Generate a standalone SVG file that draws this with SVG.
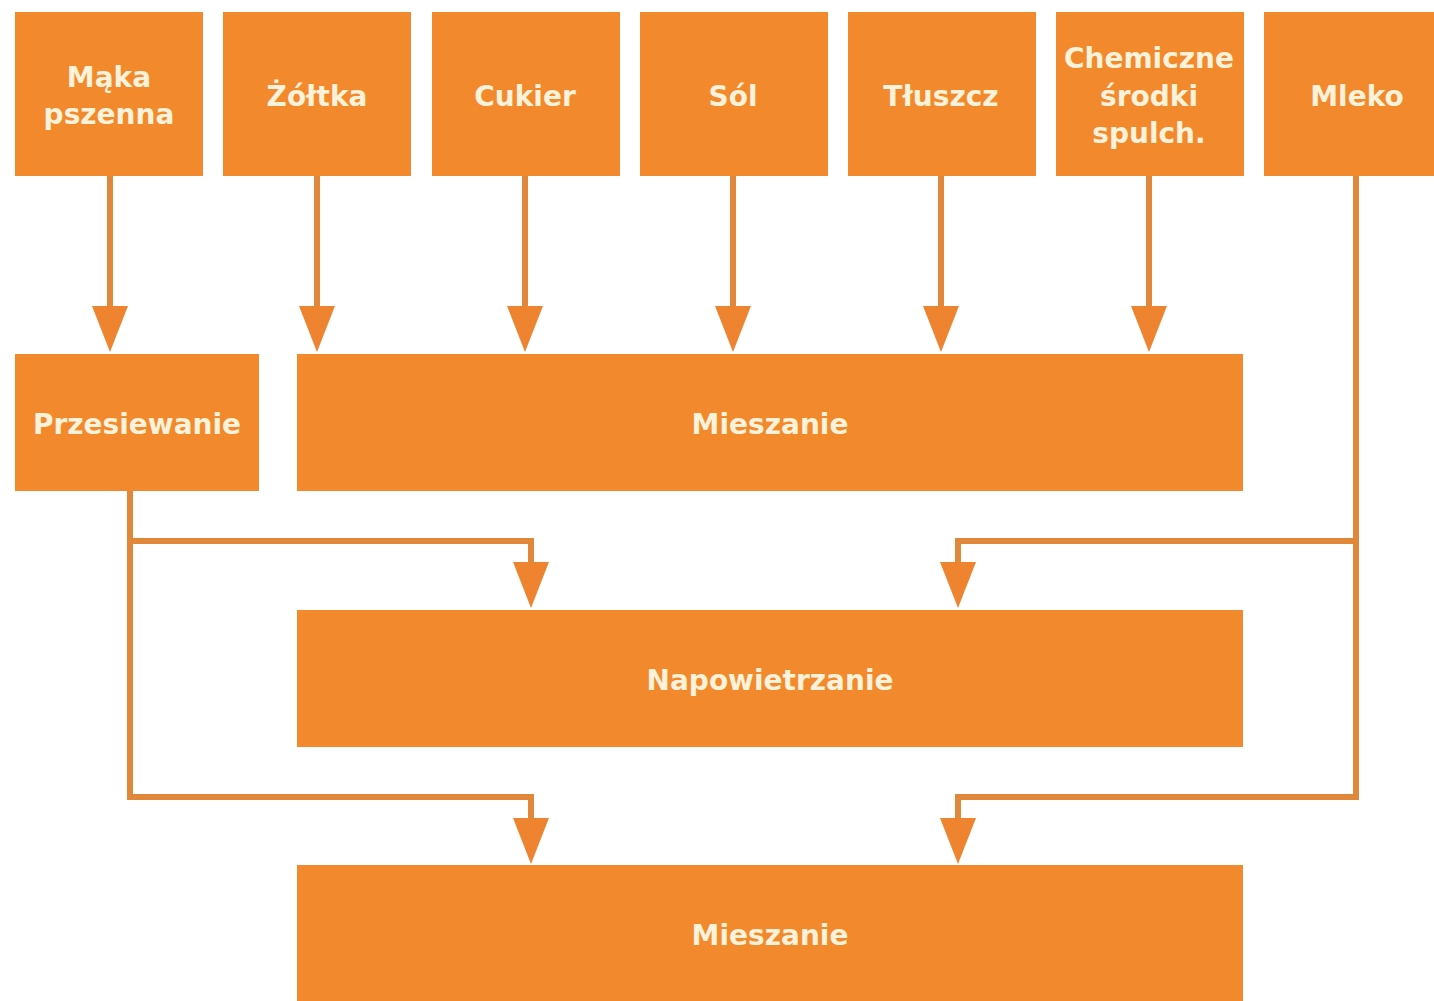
<svg xmlns="http://www.w3.org/2000/svg" width="1434" height="1001" viewBox="0 0 1434 1001">
<style>
.box{fill:#F28A2D}
.lbl{font-family:"DejaVu Sans",Verdana,sans-serif;font-weight:bold;font-size:28px;fill:#FFF2DA;text-anchor:middle}
.ln{fill:none;stroke:#E0873A;stroke-width:6;stroke-linejoin:miter}
.ah{fill:#EE8430}
</style>
<defs>
<path id="head" d="M-18,0 H18 L0,46 Z" class="ah"/>
</defs>
<rect width="1434" height="1001" fill="#FFFFFF"/>
<g id="connectors">
<path class="ln" d="M110,176 V308"/>
<path class="ln" d="M317,176 V308"/>
<path class="ln" d="M525,176 V308"/>
<path class="ln" d="M733,176 V308"/>
<path class="ln" d="M941,176 V308"/>
<path class="ln" d="M1149,176 V308"/>
<use href="#head" x="110" y="306"/>
<use href="#head" x="317" y="306"/>
<use href="#head" x="525" y="306"/>
<use href="#head" x="733" y="306"/>
<use href="#head" x="941" y="306"/>
<use href="#head" x="1149" y="306"/>
<path class="ln" d="M130,491 V797 H531 V820"/>
<path class="ln" d="M130,541 H531 V564"/>
<path class="ln" d="M1356,176 V797 H958 V820"/>
<path class="ln" d="M1356,541 H958 V564"/>
<use href="#head" x="531" y="562"/>
<use href="#head" x="958" y="562"/>
<use href="#head" x="531" y="818"/>
<use href="#head" x="958" y="818"/>
</g>
<g id="n-maka"><rect class="box" x="15" y="12" width="188" height="164"/><text class="lbl" x="109" y="87">Mąka</text><text class="lbl" x="109" y="124">pszenna</text></g>
<g id="n-zoltka"><rect class="box" x="223" y="12" width="188" height="164"/><text class="lbl" x="317" y="106">Żółtka</text></g>
<g id="n-cukier"><rect class="box" x="432" y="12" width="188" height="164"/><text class="lbl" x="525" y="106">Cukier</text></g>
<g id="n-sol"><rect class="box" x="640" y="12" width="188" height="164"/><text class="lbl" x="733" y="106">Sól</text></g>
<g id="n-tluszcz"><rect class="box" x="848" y="12" width="188" height="164"/><text class="lbl" x="941" y="106">Tłuszcz</text></g>
<g id="n-chem"><rect class="box" x="1056" y="12" width="188" height="164"/><text class="lbl" x="1149" y="68">Chemiczne</text><text class="lbl" x="1149" y="106">środki</text><text class="lbl" x="1149" y="143">spulch.</text></g>
<g id="n-mleko"><rect class="box" x="1264" y="12" width="180" height="164"/><text class="lbl" x="1357" y="106">Mleko</text></g>
<g id="n-przesiewanie"><rect class="box" x="15" y="354" width="244" height="137"/><text class="lbl" x="137" y="434">Przesiewanie</text></g>
<g id="n-mieszanie1"><rect class="box" x="297" y="354" width="946" height="137"/><text class="lbl" x="770" y="434">Mieszanie</text></g>
<g id="n-napowietrzanie"><rect class="box" x="297" y="610" width="946" height="137"/><text class="lbl" x="770" y="690">Napowietrzanie</text></g>
<g id="n-mieszanie2"><rect class="box" x="297" y="865" width="946" height="140"/><text class="lbl" x="770" y="945">Mieszanie</text></g>
</svg>
